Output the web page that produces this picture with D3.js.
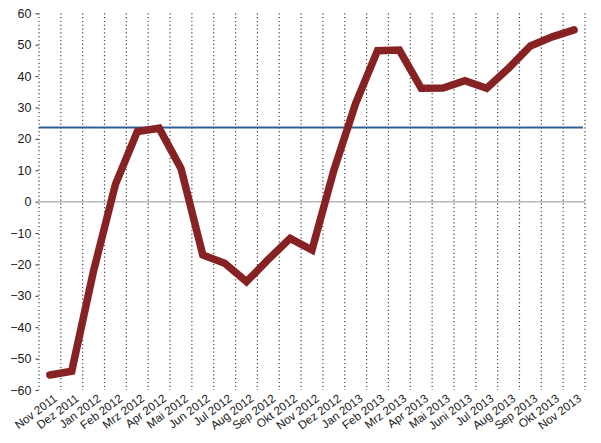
<!DOCTYPE html>
<html>
<head>
<meta charset="utf-8">
<script src="https://cdn.jsdelivr.net/npm/d3@7"></script>
<style>
html,body{margin:0;padding:0;background:#fff;}
svg{display:block;}
text{font-family:"Liberation Sans", Arial, Helvetica, sans-serif;fill:#1a1a1a;}
</style>
</head>
<body>
<svg id="chart" width="601" height="443"></svg>
<script>
const categories = ["Nov 2011","Dez 2011","Jan 2012","Feb 2012","Mrz 2012","Apr 2012","Mai 2012","Jun 2012","Jul 2012","Aug 2012","Sep 2012","Okt 2012","Nov 2012","Dez 2012","Jan 2013","Feb 2013","Mrz 2013","Apr 2013","Mai 2013","Juni 2013","Jul 2013","Aug 2013","Sep 2013","Okt 2013","Nov 2013"];
const values = [-55.2,-54,-22,5.5,22.3,23.4,10.6,-17,-19.6,-25.5,-18.4,-11.7,-15.4,10,31.3,48.1,48.3,36.1,36.2,38.5,36.1,42.5,49.6,52.5,54.7];
const referenceValue = [23.6];
const yTicks = [-60,-50,-40,-30,-20,-10,0,10,20,30,40,50,60];

const svg = d3.select("#chart");
const mLeft = 39, mRight = 585, mTop = 13.3, mBottom = 390;

const x = d3.scaleBand().domain(categories).range([mLeft, mRight]).paddingInner(0).paddingOuter(0);
const y = d3.scaleLinear().domain([-60, 60]).range([mBottom, mTop]);

// vertical dotted gridlines at band edges
const edges = categories.map(c => x(c)).concat([x(categories[categories.length-1]) + x.bandwidth()]);
svg.append("g").selectAll("line").data(edges).join("line")
  .attr("x1", d => d).attr("x2", d => d)
  .attr("y1", y(60)).attr("y2", y(-60))
  .attr("stroke", "#444").attr("stroke-width", 1.2)
  .attr("stroke-dasharray", "1.2,2.6");

// zero line
svg.append("line")
  .attr("x1", mLeft).attr("x2", mRight)
  .attr("y1", y(0)).attr("y2", y(0))
  .attr("stroke", "#b8b8b8").attr("stroke-width", 1.5);

// y axis
const yAxis = d3.axisLeft(y).tickValues(yTicks).tickSize(3).tickPadding(4).tickFormat(d3.format("d"));
const ga = svg.append("g").attr("transform", `translate(${mLeft - 0.5},0)`).call(yAxis);
ga.select(".domain").remove();
ga.selectAll(".tick line").attr("stroke", "#333");
ga.selectAll(".tick text").attr("font-size", 12.5).attr("fill", "#1a1a1a")
  .attr("font-family", "'Liberation Sans', Arial, sans-serif");

// x axis labels
const xAxis = d3.axisBottom(x).tickSize(0).tickPadding(0);
const gx = svg.append("g").attr("transform", `translate(0,${mBottom})`).call(xAxis);
gx.select(".domain").remove();
gx.selectAll(".tick text")
  .attr("font-size", 11.7)
  .attr("font-family", "'Liberation Sans', Arial, sans-serif")
  .attr("fill", "#1a1a1a")
  .attr("text-anchor", "end")
  .attr("dy", null).attr("y", 0).attr("x", 0)
  .attr("transform", "translate(8,10) rotate(-37)");

// reference line
svg.append("g").selectAll("line").data(referenceValue).join("line")
  .attr("x1", mLeft).attr("x2", mRight - 2)
  .attr("y1", d => y(d)).attr("y2", d => y(d))
  .attr("stroke", "#2f5f98").attr("stroke-width", 2);

// data line
const line = d3.line()
  .x((d, i) => x(categories[i]) + x.bandwidth() / 2)
  .y(d => y(d));
svg.append("path").datum(values)
  .attr("d", line)
  .attr("fill", "none")
  .attr("stroke", "#862224")
  .attr("stroke-width", 7.5)
  .attr("stroke-linejoin", "miter")
  .attr("stroke-miterlimit", 3)
  .attr("stroke-linecap", "round");
</script>
</body>
</html>
